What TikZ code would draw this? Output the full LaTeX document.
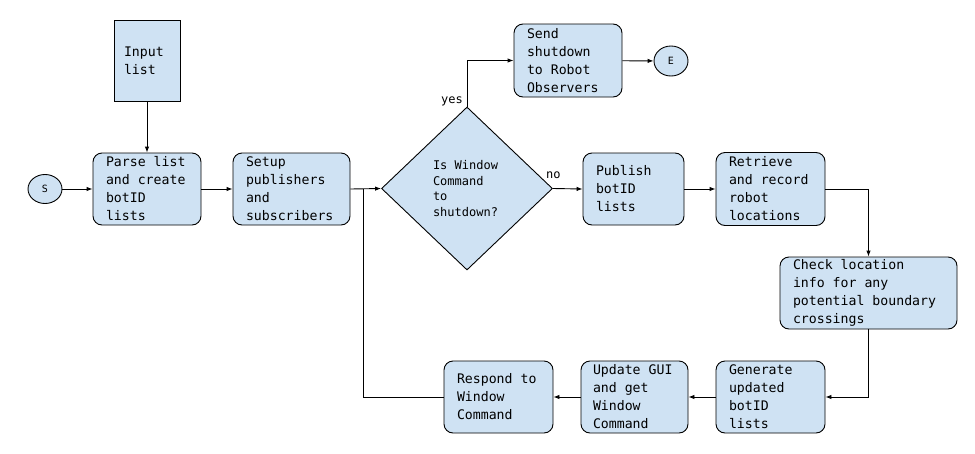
\documentclass[tikz,border=0pt]{standalone}
\usepackage{fontspec}
\newfontfamily\dmono{DejaVu Sans Mono}
\newcommand{\spc}{\hphantom{x}}
\usetikzlibrary{shapes.geometric,arrows.meta}
\definecolor{boxblue}{HTML}{CFE2F3}
\begin{document}
\begin{tikzpicture}[x=1pt,y=-1pt,
  every node/.style={font=\dmono\fontsize{13.2}{18}\selectfont},
  box/.style={draw=black, line width=0.9pt, fill=boxblue, rounded corners=9pt, inner xsep=13pt, inner ysep=0pt, align=left, minimum height=72pt},
  term/.style={draw=black, line width=0.9pt, fill=boxblue, ellipse, inner sep=0pt, minimum width=34pt, minimum height=29pt, font=\dmono\fontsize{10}{12}\selectfont},
  lbl/.style={inner sep=0pt, font=\dmono\fontsize{12}{14}\selectfont},
  conn/.style={line width=0.9pt, -{Latex[length=6pt,width=4.5pt]}},
  plain/.style={line width=0.9pt}]
\useasboundingbox (0,0) rectangle (975,453);
% nodes
\node[draw=black, line width=0.9pt, fill=boxblue, inner xsep=10pt, inner ysep=0pt, align=left, text width=46pt, minimum height=81pt] (input) at (147,60.5) {Input\\list};
\node[term] (S) at (45,189) {S};
\node[box, text width=82pt] (parse) at (147,189) {Parse\spc list\\and\spc create\\botID\\lists};
\node[box, text width=91pt] (setup) at (291.5,189) {Setup\\publishers\\and\\subscribers};
\node[diamond, draw=black, line width=0.9pt, fill=boxblue, minimum width=171pt, minimum height=163pt, inner sep=0pt, text width=68pt, align=left, font=\dmono\fontsize{12}{15.7}\selectfont] (dia) at (467,188.5) {Is\spc Window\\Command\\to\\shutdown?};
\node[box, text width=82pt, minimum height=73pt] (send) at (568,60.5) {Send\\shutdown\\to\spc Robot\\Observers};
\node[term, minimum height=30pt] (E) at (671,61) {E};
\node[box, text width=75pt] (publish) at (633.5,189) {Publish\\botID\\lists};
\node[box, text width=83pt, minimum height=73pt] (retrieve) at (770.5,189) {Retrieve\\and\spc record\\robot\\locations};
\node[box, text width=151pt] (check) at (868.5,293) {Check\spc location\\info\spc for\spc any\\potential\spc boundary\\crossings};
\node[box, text width=83pt] (generate) at (770.5,397) {Generate\\updated\\botID\\lists};
\node[box, text width=83pt, inner xsep=12pt] (update) at (634.5,397) {Update\spc GUI\\and\spc get\\Window\\Command};
\node[box, text width=83pt] (respond) at (498.5,397) {Respond\spc to\\Window\\Command};
\coordinate (junc) at (363,189);
% labels
\node[lbl, anchor=east] (yes) at (463,101) {yes};
\node[lbl, anchor=west] (no) at (546,175) {no};
% connectors
\draw[conn] (S) -- (parse);
\draw[conn] (input) -- (parse);
\draw[conn] (parse) -- (setup);
\draw[conn] (setup.east) -- (dia.west);
\draw[conn] (dia.north) |- (send.west);
\draw[conn] (send) -- (E);
\draw[conn] (dia.east) -- (publish.west);
\draw[conn] (publish) -- (retrieve);
\draw[conn] (retrieve.east) -| (check.north);
\draw[conn] (check.south) |- (generate.east);
\draw[conn] (generate) -- (update);
\draw[conn] (update) -- (respond);
\draw[plain] (respond.west) -| (junc);
\end{tikzpicture}
\end{document}
